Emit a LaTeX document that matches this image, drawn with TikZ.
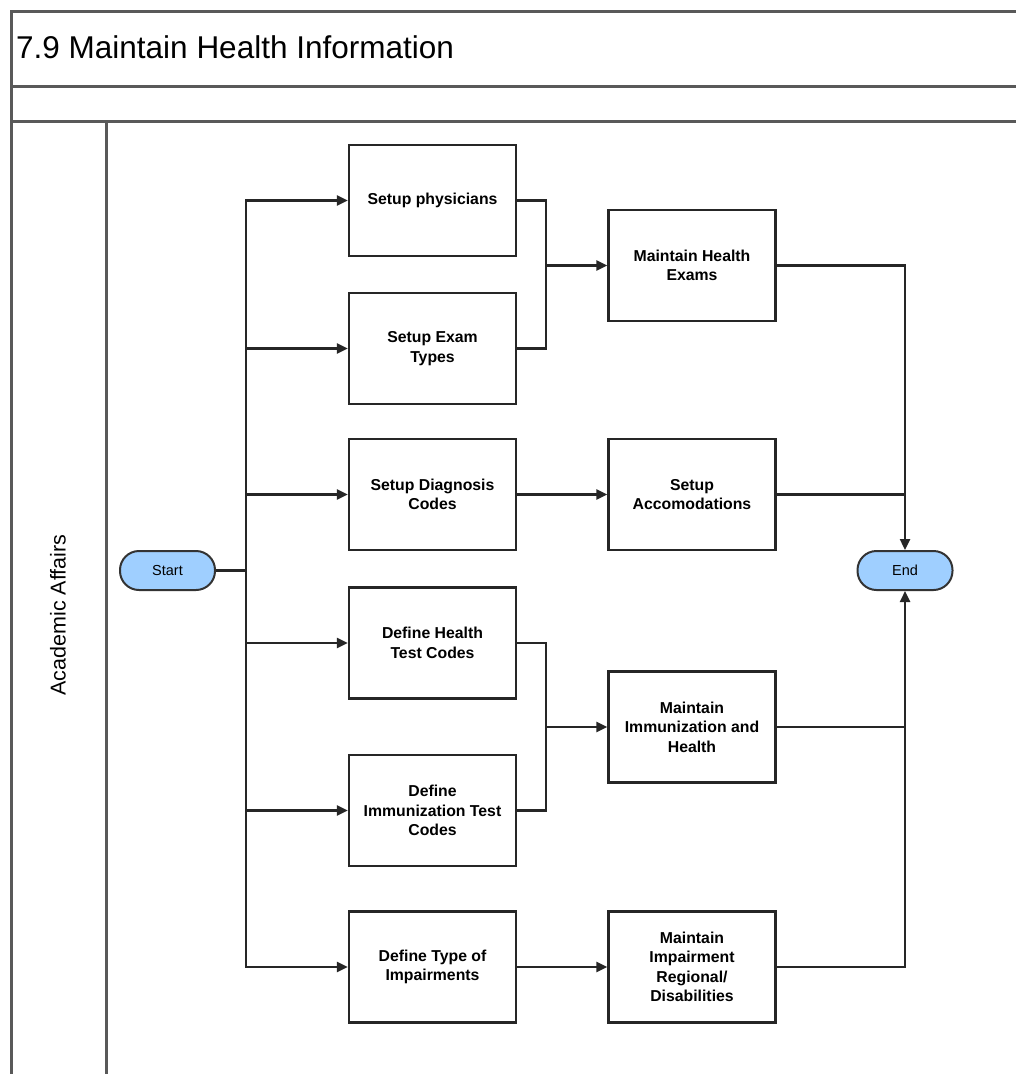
\documentclass[tikz,border=0pt]{standalone}
\usepackage{fontspec}
\setmainfont{Liberation Sans}
\newfontfamily\lanefont{Liberation Sans}
\usetikzlibrary{arrows.meta}
\definecolor{termblue}{HTML}{9FCFFF}
\begin{document}
\begin{tikzpicture}[x=1pt,y=-1pt,
 box/.style={draw=black!85,line width=2.4pt,minimum width=167pt,minimum height=111pt,inner sep=2pt,align=center,font=\fontsize{15.8}{19.5}\selectfont\bfseries},
 term/.style={draw=black!80,line width=2pt,fill=termblue,rounded corners=19pt,minimum width=95pt,minimum height=39pt,font=\fontsize{14.5}{16}\selectfont},
 conn/.style={line width=2.4pt,draw=black!85},
 arr/.style={conn,-{Triangle[length=11pt,width=10pt]}},
 frame/.style={line width=3pt,draw=black!65}]
\useasboundingbox (0,0) rectangle (1016,1074);
\clip (0,0) rectangle (1016,1074);
% frame
\draw[frame] (1030,11) -- (11,11) -- (11,1090);
\draw[frame] (11,86) -- (1030,86);
\draw[frame] (11,121) -- (1030,121);
\draw[frame] (106,121) -- (106,1090);
\node[anchor=base west,inner sep=0pt,font=\fontsize{31.5}{34}\selectfont] (title) at (16,58) {7.9 Maintain Health Information};
\node[rotate=90,inner sep=0pt,font=\lanefont\fontsize{21.5}{24}\selectfont] (lane) at (58,615) {Academic Affairs};
% terminals
\node[term] (st) at (167.5,570.5) {Start};
\node[term] (en) at (905,570.5) {End};
% column 1
\node[box] (s1) at (432.5,200.5) {Setup physicians};
\node[box] (s2) at (432.5,348.5) {Setup Exam\\Types};
\node[box] (s3) at (432.5,494.5) {Setup Diagnosis\\Codes};
\node[box] (s4) at (432.5,643) {Define Health\\Test Codes};
\node[box] (s5) at (432.5,810.5) {Define\\Immunization Test\\Codes};
\node[box] (s6) at (432.5,967) {Define Type of\\Impairments};
% column 2
\node[box] (m1) at (692,265.5) {Maintain Health\\Exams};
\node[box] (m2) at (692,494.5) {Setup\\Accomodations};
\node[box] (m3) at (692,727) {Maintain\\Immunization and\\Health};
\node[box] (m4) at (692,967) {Maintain\\Impairment\\Regional/\\Disabilities};
% trunk
\coordinate (tt) at (246,200.5);
\coordinate (tb) at (246,967);
\draw[conn,line cap=rect] (tt) -- (tb);
\draw[conn] (st.east) -- (st.east -| tt);
\draw[arr] (tt) -- (s1.west);
\draw[arr] (s2.west -| tt) -- (s2.west);
\draw[arr] (s3.west -| tt) -- (s3.west);
\draw[arr] (s4.west -| tt) -- (s4.west);
\draw[arr] (s5.west -| tt) -- (s5.west);
\draw[arr] (tb) -- (s6.west);
% merges
\coordinate (j1) at (546,265.5);
\coordinate (j2) at (546,727);
\draw[conn] (s1.east) -| (j1) |- (s2.east);
\draw[arr] (j1) -- (m1.west);
\draw[conn] (s4.east) -| (j2) |- (s5.east);
\draw[arr] (j2) -- (m3.west);
\draw[arr] (s3.east) -- (m2.west);
\draw[arr] (s6.east) -- (m4.west);
% to end
\draw[arr] (m1.east) -| (en.north);
\draw[conn] (m2.east) -- (m2.east -| en.north);
\draw[arr] (m3.east) -| (en.south);
\draw[conn] (m4.east) -| (m3.east -| en.south);
\end{tikzpicture}
\end{document}
